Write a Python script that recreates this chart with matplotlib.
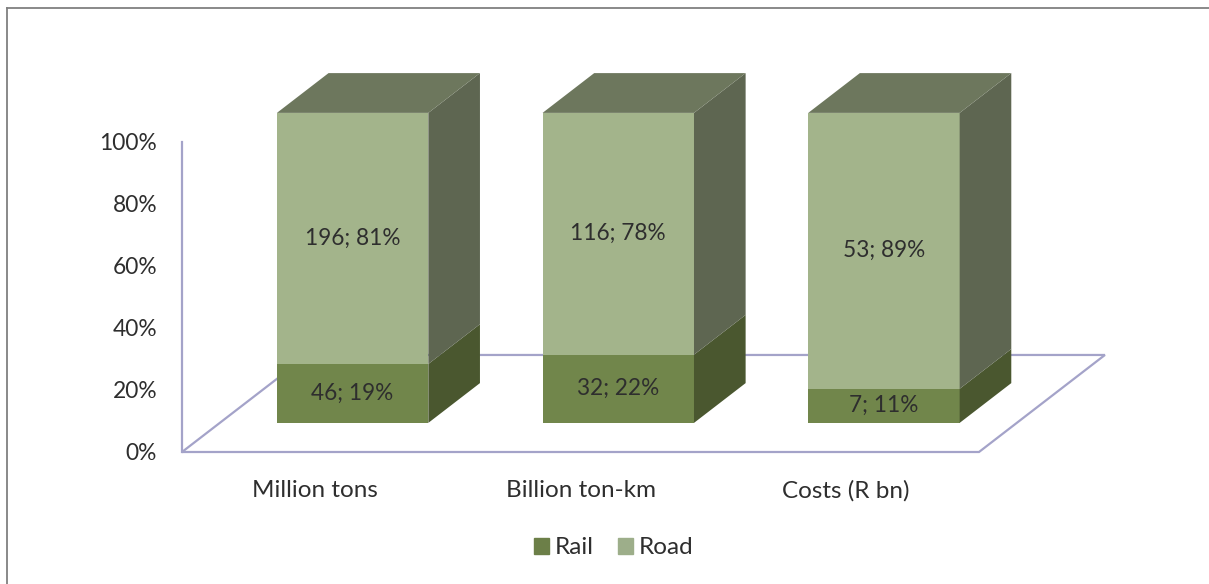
import matplotlib
matplotlib.use('Agg')
import matplotlib.pyplot as plt
from matplotlib.patches import Polygon, Patch
from matplotlib.lines import Line2D

categories = ['Million tons', 'Billion ton-km', 'Costs (R bn)']
rail_vals = [46, 32, 7]
road_vals = [196, 116, 53]
rail_pct = [19, 22, 11]
road_pct = [81, 78, 89]
yticks = [0, 20, 40, 60, 80, 100]

plt.rcParams['font.family'] = ['Lato', 'DejaVu Sans']

# colours (front / side / top)
rail_front = '#71864B'
rail_side = '#4A572F'
road_front = '#A3B48B'
road_side = '#5E6651'
road_top = '#6D775D'
line_col = '#A4A3C9'
txt = '#2E2E2E'

fig = plt.figure(figsize=(12.09, 5.84), dpi=100)
fig.patch.set_facecolor('white')
ax = fig.add_axes([182/1209, 132/584, 797/1209, 310/584])
ax.set_xlim(-0.5, 2.5)
ax.set_ylim(0, 100)
ax.patch.set_alpha(0)
for s in ax.spines.values():
    s.set_visible(False)

# fake 3d: depth offset of the floor and where the bars sit in it
DX, DY = 0.474, 31.3
t0, t1 = 0.30, 0.71
w = 0.57

floor = Polygon([(-0.5, 0), (2.5, 0), (2.5 + DX, DY), (-0.5 + DX, DY)],
                closed=True, fill=False, edgecolor=line_col, lw=1.6, clip_on=False, zorder=1)
ax.add_patch(floor)
ax.plot([-0.5, -0.5], [0, 100], color=line_col, lw=1.6, clip_on=False, zorder=1)

xs = [i + t0 * DX for i in range(len(categories))]
base = t0 * DY
ax.bar(xs, rail_pct, bottom=base, width=w, color=rail_front, zorder=3, clip_on=False)
ax.bar(xs, road_pct, bottom=[base + r for r in rail_pct], width=w, color=road_front,
       zorder=3, clip_on=False)

ddx, ddy = (t1 - t0) * DX, (t1 - t0) * DY
for x, r, rd, rv, dv in zip(xs, rail_pct, road_pct, rail_vals, road_vals):
    xl, xr = x - w / 2, x + w / 2
    for y0, y1, c in [(base, base + r, rail_side), (base + r, base + r + rd, road_side)]:
        ax.add_patch(Polygon([(xr, y0), (xr + ddx, y0 + ddy), (xr + ddx, y1 + ddy), (xr, y1)],
                             closed=True, color=c, lw=0, zorder=3, clip_on=False))
    top = base + r + rd
    ax.add_patch(Polygon([(xl, top), (xr, top), (xr + ddx, top + ddy), (xl + ddx, top + ddy)],
                         closed=True, color=road_top, lw=0, zorder=3, clip_on=False))
    ax.text(x, base + r / 2, f'{rv}; {r}%', ha='center', va='center', fontsize=16.3,
            color=txt, zorder=4)
    ax.text(x, base + r + rd / 2, f'{dv}; {rd}%', ha='center', va='center', fontsize=16.3,
            color=txt, zorder=4)

ax.set_yticks(yticks, [f'{v}%' for v in yticks])
ax.set_xticks(range(len(categories)), categories)
ax.tick_params(axis='y', length=0, pad=18, labelsize=16.4, labelcolor=txt)
ax.tick_params(axis='x', length=0, pad=20, labelsize=17.5, labelcolor=txt)

fig.legend(handles=[Patch(color='#6C7F48', label='Rail'), Patch(color='#9DAE8A', label='Road')],
           loc='center', bbox_to_anchor=(614/1209, 1 - 548/584), ncol=2, frameon=False,
           handlelength=0.6, handleheight=0.6, handletextpad=0.25, columnspacing=1.0,
           fontsize=17.5, labelcolor=txt)

# outer chart border (only left/top edges visible in the scan)
fig.add_artist(Line2D([7/1209, 7/1209], [0, 1 - 8/584], color='#808080', lw=1.3,
                      transform=fig.transFigure))
fig.add_artist(Line2D([7/1209, 1], [1 - 8/584, 1 - 8/584], color='#808080', lw=1.3,
                      transform=fig.transFigure))

fig.savefig('out.png', dpi=100)
